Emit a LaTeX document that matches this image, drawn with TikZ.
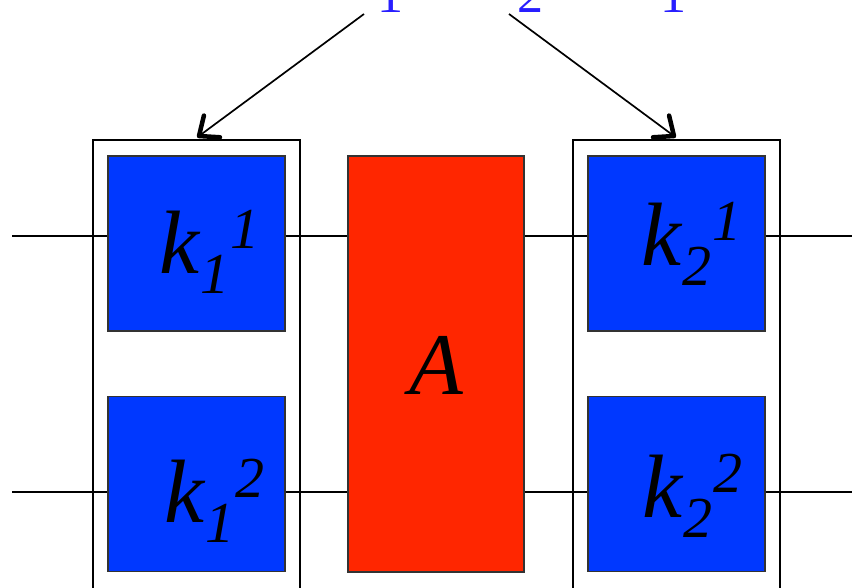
\documentclass[tikz,border=0pt]{standalone}
\usepackage{fontspec}
\setmainfont{Liberation Serif}
\usetikzlibrary{calc}
\definecolor{kblue}{RGB}{0,56,255}
\definecolor{ared}{RGB}{255,38,0}
\definecolor{tblue}{RGB}{40,30,255}
\newcommand{\klab}[2]{{\fontsize{90}{90}\selectfont\itshape k}\kern1pt\raisebox{-20pt}{\fontsize{58}{58}\selectfont\itshape #1}\kern1pt\raisebox{25pt}{\fontsize{58}{58}\selectfont\itshape #2}}
\begin{document}
\begin{tikzpicture}[x=1pt,y=-1pt,
  kbox/.style={draw=black!80,line width=1.3pt,fill=kblue,minimum width=177pt,minimum height=175pt,inner sep=0pt},
  abox/.style={draw=black!80,line width=1.3pt,fill=ared,minimum width=176pt,minimum height=416pt,inner sep=0pt},
  obox/.style={draw=black,line width=1.8pt,minimum width=207pt,minimum height=480pt,inner sep=0pt},
  wire/.style={line width=1.5pt},
  ptr/.style={line width=1.7pt},
  barb/.style={line width=4.5pt,line cap=round,line join=round},
  lab/.style={anchor=base west,inner sep=0pt,text=black},
  top/.style={anchor=base,inner sep=0pt,text=tblue,font=\fontsize{52}{52}\selectfont}]
\useasboundingbox (0,0) rectangle (852,587);
\clip (0,0) rectangle (852,587);
\fill[white] (0,0) rectangle (852,587);
% outer boxes
\node[obox] (o1) at (196.5,380) {};
\node[obox] (o2) at (676.5,380) {};
% blue and red boxes
\node[kbox] (k11) at (196.5,243.5) {};
\node[kbox] (k12) at (196.5,484) {};
\node[abox] (A) at (436,364) {};
\node[kbox] (k21) at (676.5,243.5) {};
\node[kbox] (k22) at (676.5,484) {};
% wire ends
\coordinate (l1) at (12,236);
\coordinate (l2) at (12,492);
\coordinate (r1) at (852,236);
\coordinate (r2) at (852,492);
% wires
\draw[wire] (l1) -- (l1 -| k11.west);
\draw[wire] (k11.east |- l1) -- (A.west |- l1);
\draw[wire] (A.east |- l1) -- (k21.west |- l1);
\draw[wire] (k21.east |- r1) -- (r1);
\draw[wire] (l2) -- (l2 -| k12.west);
\draw[wire] (k12.east |- l2) -- (A.west |- l2);
\draw[wire] (A.east |- l2) -- (k22.west |- l2);
\draw[wire] (k22.east |- r2) -- (r2);
% labels
\node[lab] (t11) at (159,273) {\klab{1}{1}};
\node[lab] (t12) at (164,522) {\klab{1}{2}};
\node[lab] (t21) at (641,265) {\klab{2}{1}};
\node[lab] (t22) at (642,517) {\klab{2}{2}};
\node[anchor=base,inner sep=0pt] (tA) at (436,394) {\fontsize{88}{88}\selectfont\itshape A};
% top text (cut off as in the reference)
\node[top] (s1) at (390,12) {1};
\node[top] (s2) at (530,12) {2};
\node[top] (s3) at (673,12) {1};
% arrows
\coordinate (a1) at (364,14);
\coordinate (a2) at (509,14);
\coordinate (h1) at (199,136);
\coordinate (h2) at (674,136);
\draw[ptr] (a1) -- (h1);
\draw[ptr] (a2) -- (h2);
\draw[barb] ($(h1)!21pt!40:(a1)$) -- (h1) -- ($(h1)!21pt!-40:(a1)$);
\draw[barb] ($(h2)!21pt!40:(a2)$) -- (h2) -- ($(h2)!21pt!-40:(a2)$);
\end{tikzpicture}
\end{document}
